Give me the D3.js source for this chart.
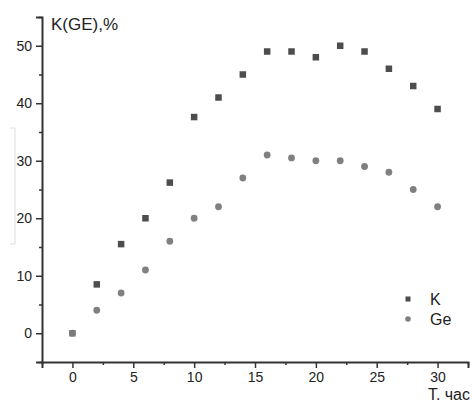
<!DOCTYPE html>
<html><head><meta charset="utf-8">
<script src="https://cdn.jsdelivr.net/npm/d3@7"></script>
<style>body{margin:0;background:#fff}svg{display:block}text{font-family:"Liberation Sans",Arial,sans-serif}</style>
</head><body>
<script>
const tHours = [0,2,4,6,8,10,12,14,16,18,20,22,24,26,28,30];
const kValues = [0,8.5,15.5,20,26.2,37.6,41,45,49,49,48,50,49,46,43,39];
const geValues = [0,4,7,11,16,20,22,27,31,30.5,30,30,29,28,25,22];
const xTicks = [0,5,10,15,20,25,30];
const yTicks = [0,10,20,30,40,50];
const seriesNames = ["K","Ge"];

const W=473,H=403;
const svg=d3.select("body").append("svg").attr("width",W).attr("height",H);
const x=d3.scaleLinear().domain([-2.5,32.5]).range([42,468]);
const y=d3.scaleLinear().domain([-5,55]).range([362,17]);
const axisColor="#333";

// faint bracket artifact
svg.append("path").attr("d","M10,128H15V244H10").attr("fill","none").attr("stroke","#ddd").attr("stroke-width",1);

// Y axis
const yAxis=d3.axisLeft(y).tickValues(yTicks).tickSize(6).tickPadding(4);
const gy=svg.append("g").attr("transform",`translate(${x(-2.5)},0)`).call(yAxis);
gy.select(".domain").attr("stroke",axisColor).attr("stroke-width",2);
gy.selectAll(".tick line").attr("stroke",axisColor).attr("stroke-width",1.5);
gy.selectAll(".tick text").attr("fill","#222").style("font-size","14px");
const yMinor=d3.axisLeft(y).tickValues([-5,5,15,25,35,45,55]).tickSize(3).tickFormat("");
const gym=svg.append("g").attr("transform",`translate(${x(-2.5)},0)`).call(yMinor);
gym.select(".domain").remove();
gym.selectAll(".tick line").attr("stroke",axisColor).attr("stroke-width",1.5);

// X axis
const xAxis=d3.axisBottom(x).tickValues(xTicks).tickSize(6).tickPadding(4);
const gx=svg.append("g").attr("transform",`translate(0,${y(-5)})`).call(xAxis);
gx.select(".domain").attr("stroke",axisColor).attr("stroke-width",2);
gx.selectAll(".tick line").attr("stroke",axisColor).attr("stroke-width",1.5);
gx.selectAll(".tick text").attr("fill","#222").style("font-size","14px");
const xMinor=d3.axisBottom(x).tickValues([-2.5,2.5,7.5,12.5,17.5,22.5,27.5,32.5]).tickSize(3).tickFormat("");
const gxm=svg.append("g").attr("transform",`translate(0,${y(-5)})`).call(xMinor);
gxm.select(".domain").remove();
gxm.selectAll(".tick line").attr("stroke",axisColor).attr("stroke-width",1.5);

// Titles
svg.append("text").attr("x",51).attr("y",30).attr("fill","#222").style("font-size","17px").text("K(GE),%");
svg.append("text").attr("x",470).attr("y",400).attr("text-anchor","end").attr("fill","#222").style("font-size","16px").text("T. час");

// Ge circles
svg.append("g").selectAll("circle").data(tHours).join("circle")
  .attr("cx",d=>x(d)).attr("cy",(d,i)=>y(geValues[i])).attr("r",3.4).attr("fill","#808080");
// K squares
const s=6.5;
svg.append("g").selectAll("rect").data(tHours).join("rect")
  .attr("x",d=>x(d)-s/2).attr("y",(d,i)=>y(kValues[i])-s/2).attr("width",s).attr("height",s)
  .attr("fill",(d,i)=>i===0?"#7a7a7a":"#4d4d4d");

// Legend
const lg=svg.append("g");
lg.append("rect").attr("x",405.5).attr("y",296.5).attr("width",5).attr("height",5).attr("fill","#4d4d4d");
lg.append("circle").attr("cx",408).attr("cy",319).attr("r",2.8).attr("fill","#808080");
lg.append("text").attr("x",430).attr("y",305).attr("fill","#222").style("font-size","16px").text(seriesNames[0]);
lg.append("text").attr("x",430).attr("y",325).attr("fill","#222").style("font-size","16px").text(seriesNames[1]);
</script>
</body></html>
